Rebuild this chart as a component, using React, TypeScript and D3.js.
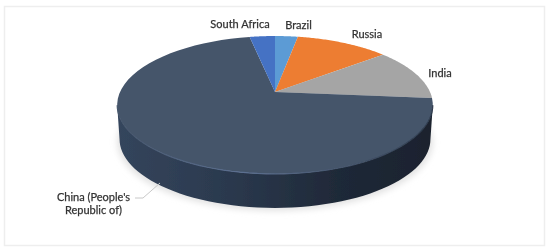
import React from "react";
import * as d3 from "d3";

// shares, clockwise from 12 o'clock
const countries = ["Brazil", "Russia", "India", "China", "South Africa"];
const shares = [2.8, 11.4, 12.2, 70.5, 3.1];
const colors = ["#5b9bd5", "#ed7d31", "#a5a5a5", "#44546a", "#4472c4"];

const width = 550;
const height = 250;

// tilted disc: the apex sits above the middle of the ellipse
const cx = 275;
const cy = 92;
const rx = 155;
const ry = 66.5;
const tilt = 0.188;
const depth = 34;

const project = (t: number, dy = 0, shrink = 1): [number, number] => {
  const u = Math.sin(t);
  const v = -Math.cos(t);
  const w = 1 - tilt * v;
  return [cx + (shrink * rx * u) / w, cy + dy + (ry * v) / w];
};

const line = d3.line();
const sweep = (a: number, b: number, dy = 0, shrink = 1) =>
  d3.range(0, 61).map((i) => project(a + ((b - a) * i) / 60, dy, shrink));

const arcs = d3.pie<number>().sort(null)(shares);

const sideFrom = (101 / 180) * Math.PI;
const sideTo = (259 / 180) * Math.PI;
const wall = [
  ...sweep(sideFrom, sideTo),
  ...sweep(sideTo, sideFrom, depth, 0.985),
];

const labels = [
  { lines: ["South Africa"], x: 240, y: 28 },
  { lines: ["Brazil"], x: 298.5, y: 29 },
  { lines: ["Russia"], x: 367, y: 38 },
  { lines: ["India"], x: 440, y: 77 },
  { lines: ["China (People's", "Republic of)"], x: 93.5, y: 201 },
];

export default function App() {
  return (
    <svg
      width={width}
      height={height}
      viewBox={`0 0 ${width} ${height}`}
      style={{ position: "absolute", left: 0, top: 0, background: "#fff" }}
    >
      <defs>
        <linearGradient id="wall" x1="0" x2="1" y1="0" y2="0">
          <stop offset="0%" stopColor="#34455c" />
          <stop offset="35%" stopColor="#2b394e" />
          <stop offset="70%" stopColor="#1f2938" />
          <stop offset="100%" stopColor="#1a222e" />
        </linearGradient>
        <linearGradient id="rim" x1="0" x2="1" y1="0" y2="0">
          <stop offset="0%" stopColor="#44546a" />
          <stop offset="40%" stopColor="#5c7091" />
          <stop offset="70%" stopColor="#46566e" />
          <stop offset="100%" stopColor="#2c384a" />
        </linearGradient>
        <filter id="shadow" x="-10%" y="-10%" width="120%" height="120%">
          <feGaussianBlur stdDeviation="3" />
        </filter>
        <filter id="soft" x="-5%" y="-5%" width="110%" height="110%">
          <feGaussianBlur stdDeviation="0.45" />
        </filter>
      </defs>

      <rect x={4.5} y={6.5} width={540} height={239} fill="#fff" stroke="#eeeeee" strokeWidth={1.5} />

      <path
        d={line(sweep(0, 2 * Math.PI, depth + 3)) + "Z"}
        fill="#e2e2e2"
        filter="url(#shadow)"
      />

      <g filter="url(#soft)">
        <path d={line(wall) + "Z"} fill="url(#wall)" />
        {arcs.map((a, i) => (
          <path
            key={countries[i]}
            d={line([[cx, cy], ...sweep(a.startAngle, a.endAngle)]) + "Z"}
            fill={colors[i]}
          />
        ))}
        <path
          d={line(sweep(sideFrom, sideTo)) ?? ""}
          fill="none"
          stroke="url(#rim)"
          strokeWidth={1.2}
        />
        <path d="M135,198 L143,198 L160,183" fill="none" stroke="#c8c8c8" strokeWidth={1} />
        <g fontFamily="Lato, 'Open Sans', sans-serif" fontSize={11} fill="#333" textAnchor="middle">
          {labels.map((l) => (
            <text key={l.lines[0]} x={l.x} y={l.y} stroke="#333" strokeWidth={0.25}>
              {l.lines.map((s, i) => (
                <tspan key={s} x={l.x} dy={i === 0 ? 0 : 12.5}>
                  {s}
                </tspan>
              ))}
            </text>
          ))}
        </g>
      </g>
    </svg>
  );
}
